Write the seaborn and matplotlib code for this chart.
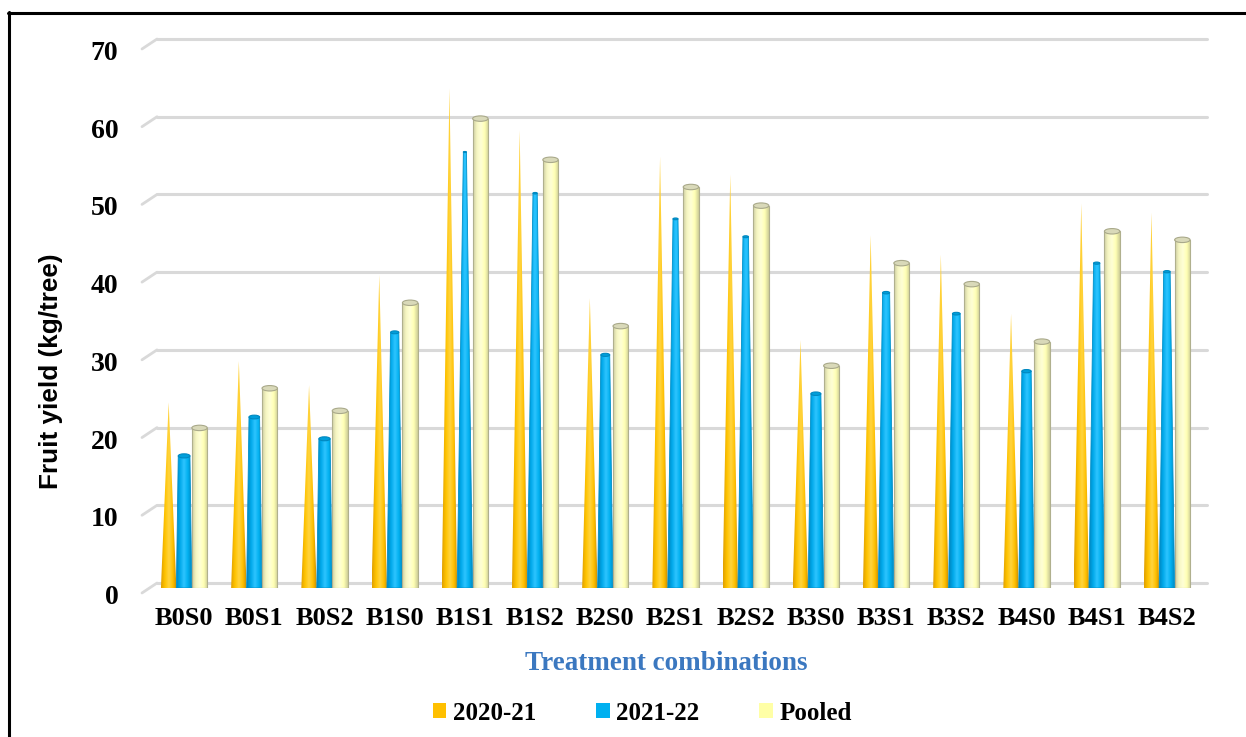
import numpy as np
import pandas as pd
import matplotlib
matplotlib.use("Agg")
import matplotlib.pyplot as plt
import seaborn as sns
from matplotlib.colors import LinearSegmentedColormap
from matplotlib.patches import Polygon, Ellipse, Patch, Rectangle
from matplotlib.lines import Line2D
import matplotlib.transforms as mtransforms

# ---------------- data ----------------
treatments = ["B0S0", "B0S1", "B0S2", "B1S0", "B1S1", "B1S2", "B2S0", "B2S1",
              "B2S2", "B3S0", "B3S1", "B3S2", "B4S0", "B4S1", "B4S2"]
yield_2020_21 = [23.9, 29.2, 26.1, 40.3, 64.3, 58.9, 37.3, 55.5, 53.2, 31.9, 45.4, 42.9, 35.3, 49.5, 48.3]
yield_2021_22 = [17.0, 22.0, 19.2, 32.9, 56.1, 50.8, 30.0, 47.5, 45.2, 25.0, 38.0, 35.3, 27.9, 41.8, 40.7]
yield_pooled = [20.6, 25.7, 22.8, 36.7, 60.4, 55.1, 33.7, 51.6, 49.2, 28.6, 41.8, 39.1, 31.7, 45.9, 44.8]
series_names = ["2020-21", "2021-22", "Pooled"]
y_ticks = [0, 10, 20, 30, 40, 50, 60, 70]

# ---------------- style ----------------
sns.set_theme(style="white")
plt.rcParams['font.family'] = ['Liberation Serif', 'DejaVu Serif']
plt.rcParams['text.color'] = 'black'

W, H = 1246, 737
fig = plt.figure(figsize=(W / 100, H / 100), dpi=100)


def fx(px):
    return px / W


def fy(py):
    return 1 - py / H


ax = fig.add_axes([fx(149), fy(588), fx(1202) - fx(149), fy(44) - fy(588)])

df = pd.DataFrame({
    "Treatment": treatments * 3,
    "Series": [s for s in series_names for _ in treatments],
    "Yield": yield_2020_21 + yield_2021_22 + yield_pooled,
})
palette = {"2020-21": "#FFC000", "2021-22": "#00B0F0", "Pooled": "#FFFFB0"}
sns.barplot(data=df, x="Treatment", y="Yield", hue="Series", order=treatments,
            hue_order=series_names, palette=palette, width=0.66, saturation=1,
            errorbar=None, legend=False, ax=ax)

y_max = y_ticks[-1]
cmaps = [
    LinearSegmentedColormap.from_list("c0", ["#E0A000", "#FFC400", "#FFD440", "#FFC000", "#C88A00"]),
    LinearSegmentedColormap.from_list("c1", ["#0085BE", "#00A9EA", "#2EC4FF", "#00B0F0", "#0088C0"]),
    LinearSegmentedColormap.from_list("c2", ["#CFCFA4", "#F6F6C2", "#FFFFD6", "#FFFFB4", "#CDCD98"]),
]
cap_fc = [None, "#009FDB", "#D9D9B9"]
cap_ec = [None, "#0088C0", "#A9A98A"]
side_ec = [None, "#0090C8", "#B0B08E"]
grad = np.linspace(0, 1, 64).reshape(1, -1)
cap_h = 0.7

for i, cont in enumerate(ax.containers):
    for bar in cont:
        x, w, h = bar.get_x(), bar.get_width(), bar.get_height()
        xc = x + w / 2
        bar.set_visible(False)
        if i == 0:
            # full cone
            shape = Polygon([(x, 0), (x + w, 0), (xc, h)], closed=True,
                            facecolor="none", edgecolor="none", zorder=2)
            top_w = 0
        elif i == 1:
            # partial cone (tapers toward the axis maximum)
            top_w = w * (1 - h / y_max)
            shape = Polygon([(x, 0), (x + w, 0), (xc + top_w / 2, h), (xc - top_w / 2, h)],
                            closed=True, facecolor="none", edgecolor=side_ec[i], lw=0.6, zorder=2.1)
        else:
            # cylinder
            top_w = w
            shape = Rectangle((x, 0), w, h, facecolor="none", edgecolor=side_ec[i],
                              lw=0.8, zorder=2.1)
        if i > 0:
            ax.add_patch(Ellipse((xc, 0), w, cap_h, facecolor=cmaps[i](0.5),
                                 edgecolor=side_ec[i], lw=0.8, zorder=1.9))
        ax.add_patch(shape)
        im = ax.imshow(grad, cmap=cmaps[i], extent=(x, x + w, 0, h), aspect="auto",
                       interpolation="bilinear", zorder=2)
        im.set_clip_path(shape)
        if i > 0:
            ax.add_patch(Ellipse((xc, h), top_w, cap_h * top_w / w, facecolor=cap_fc[i],
                                 edgecolor=cap_ec[i], lw=0.8, zorder=2.2))

# gridlines on the back wall with slanted floor stubs
blend = mtransforms.blended_transform_factory(ax.transAxes, ax.transData)
x_stub0 = (142 - 149) / 1053
x_stub1 = (157 - 149) / 1053
x_end = (1207 - 149) / 1053
for v in y_ticks:
    ax.plot([x_stub1, x_end], [v + 0.64, v + 0.64], transform=blend, color="#D9D9D9",
            lw=2.2, zorder=0.5, clip_on=False, solid_capstyle="round")
    ax.plot([x_stub0, x_stub1], [v - 0.64, v + 0.64], transform=blend, color="#D9D9D9",
            lw=2.0, zorder=0.5, clip_on=False)

ax.set_xlim(-0.5, len(treatments) - 0.5)
ax.set_ylim(0, 70)
ax.set_yticks(y_ticks)
ax.set_yticklabels([str(v) for v in y_ticks], fontsize=20, fontweight="bold",
                   family=["Liberation Serif"])
ax.set_xticks(range(len(treatments)))
ax.set_xticklabels(treatments, fontsize=19, fontweight="bold", family=["Liberation Serif"])
ax.tick_params(axis="y", length=0, pad=22, colors="black")
ax.tick_params(axis="x", length=0, pad=14, colors="black")
offset = mtransforms.ScaledTranslation(0, -0.065, fig.dpi_scale_trans)
for lab in ax.get_yticklabels():
    lab.set_transform(lab.get_transform() + offset)
ax.set_xlabel("")
ax.set_ylabel("")
for s in ax.spines.values():
    s.set_visible(False)
ax.grid(False)
ax.set_facecolor("none")

# titles
fig.text(fx(51), fy(371), "Fruit yield (kg/tree)", rotation=90, ha="center", va="center",
         fontsize=18.8, fontweight="bold", family=["Liberation Sans", "DejaVu Sans"], color="black")
fig.text(fx(666), fy(663), "Treatment combinations", ha="center", va="center",
         fontsize=19.5, fontweight="bold", family=["Liberation Serif"], color="#3B78C0")

# legend
leg_colors = ["#FFC000", "#00B0F0", "#FFFFA6"]
handles = [Patch(facecolor=c, edgecolor="none", label=s) for c, s in zip(leg_colors, series_names)]
fig.legend(handles=handles, loc="center", bbox_to_anchor=(fx(642), fy(713)), ncol=3,
           frameon=False, prop=dict(family="Liberation Serif", weight="bold", size=18),
           labelcolor="black", handlelength=0.55, handleheight=0.55, handletextpad=0.25,
           columnspacing=2.4)

# outer border (left and top only)
fig.add_artist(Line2D([fx(9), fx(9)], [fy(12), 0], color="black", lw=2.2))
fig.add_artist(Line2D([fx(8), 1], [fy(12.5), fy(12.5)], color="black", lw=2.2))

fig.savefig("out.png", dpi=100)
